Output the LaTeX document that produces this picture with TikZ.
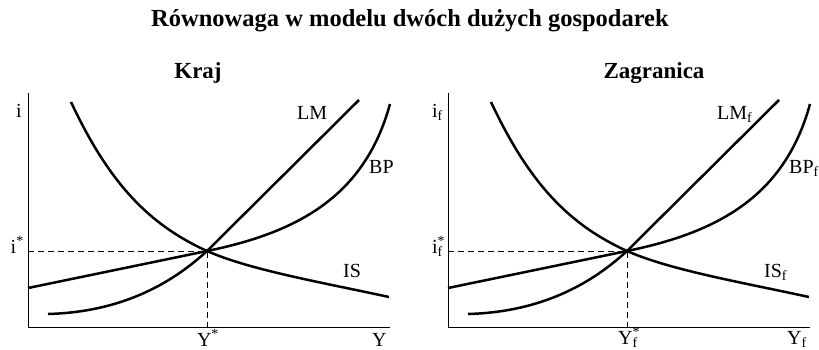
\documentclass[tikz,border=0pt]{standalone}
\usepackage{fontspec}
\setmainfont{Liberation Serif}
\newcommand\panelcurves{%
  \draw[axis] (28,93) -- (28,327) -- (390,327);
  \coordinate (E) at (207,251);
  \draw[guide] (28,251) -- (E) -- (207,327);
  \draw[curve] (71,102) .. controls (110,185) and (150,225) .. (E) .. controls (250,270) and (320,282) .. (389,297);
  \draw[curve] (48,314) .. controls (120,312) and (170,285) .. (E) -- (359,100);
  \draw[curve] (28,288) -- (E) .. controls (300,232) and (365,195) .. (390,104);
}
\begin{document}
\begin{tikzpicture}[x=1pt,y=-1pt,
  curve/.style={line width=2.5pt},
  axis/.style={line width=1pt},
  guide/.style={line width=0.9pt,dash pattern=on 6pt off 4pt},
  lab/.style={font=\fontsize{20}{22}\selectfont, inner sep=0pt},
  ttl/.style={font=\fontsize{23}{26}\selectfont\bfseries, inner sep=0pt}]
\useasboundingbox (0,0) rectangle (819,349);
\node[ttl,font=\fontsize{24.5}{27}\selectfont\bfseries] (title) at (410,21) {Równowaga w modelu dwóch dużych gospodarek};
% left panel
\node[ttl] (kraj) at (198,73) {Kraj};
\panelcurves
\node[lab,anchor=base east] (i) at (22,117) {i};
\node[lab,anchor=base east] (istar) at (24,253) {i\textsuperscript{*}};
\node[lab,anchor=base west] (LM) at (297,119) {LM};
\node[lab,anchor=base west] (BP) at (369,173) {BP};
\node[lab,anchor=base west] (IS) at (343,277) {IS};
\node[lab,anchor=base] (Ystar) at (208,346) {Y\textsuperscript{*}};
\node[lab,anchor=base west] (Y) at (372,346) {Y};
% right panel
\node[ttl] (zagr) at (654,73) {Zagranica};
\begin{scope}[xshift=420pt]
\panelcurves
\node[lab,anchor=base east] (if) at (23,117) {i\textsubscript{f}};
\node[lab,anchor=base east] (ifstar) at (23,253) {i\rlap{\textsuperscript{*}}\textsubscript{f}};
\node[lab,anchor=base west] (LMf) at (297,119) {LM\textsubscript{f}};
\node[lab,anchor=base west] (BPf) at (369,173) {BP\textsubscript{f}};
\node[lab,anchor=base west] (ISf) at (344,277) {IS\textsubscript{f}};
\node[lab,anchor=base] (Yfstar) at (208,344) {Y\rlap{\textsuperscript{*}}\textsubscript{f}};
\node[lab,anchor=base west] (Yf) at (367,344) {Y\textsubscript{f}};
\end{scope}
\end{tikzpicture}
\end{document}
